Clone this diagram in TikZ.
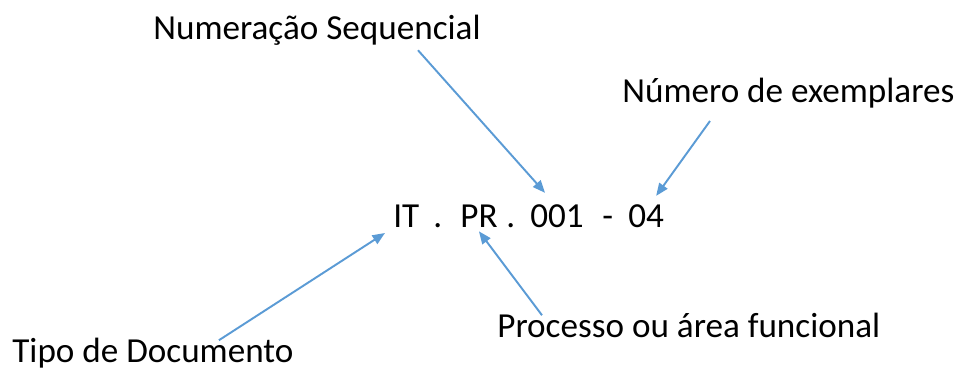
\documentclass[tikz,border=0pt]{standalone}
\usepackage{fontspec}
\setmainfont{Carlito}
\usepackage{xcolor}
\definecolor{azul}{RGB}{91,155,213}
\usetikzlibrary{arrows.meta, positioning}

\begin{document}
\begin{tikzpicture}[x=0.02cm, y=-0.02cm,
    rotulo/.style={inner sep=0pt, anchor=base west, font=\fontsize{20}{24}\selectfont},
    seta/.style={azul, line width=1.1pt, -{Triangle[length=0.25cm, width=0.2cm]}}]
    \useasboundingbox (0,0) rectangle (958,374);

    % the code itself
    \node[rotulo] (it) at (393,228) {IT};
    \node[rotulo] (ponto1) at (433,228) {.};
    \node[rotulo] (pr) at (460,228) {PR};
    \node[rotulo] (ponto2) at (506,228) {.};
    \node[rotulo] (seq) at (530,228) {001};
    \node[rotulo] (traco) at (602,228) {-};
    \node[rotulo] (ex) at (628,228) {04};

    % labels
    \node[rotulo] (num) at (153,40) {Numeração Sequencial};
    \node[rotulo] (exem) at (622,103) {Número de exemplares};
    \node[rotulo] (proc) at (497,338) {Processo ou área funcional};
    \node[rotulo] (tipo) at (12,363) {Tipo de Documento};

    \draw[seta] ([shift={(265,4)}]num.south west) -- ([shift={(-12,-12)}]seq.north);
    \draw[seta] ([shift={(88,12)}]exem.south west) -- ([shift={(10,-9)}]ex.north);
    \draw[seta] ([shift={(66,2)}]tipo.north) -- ([shift={(-8,5)}]it.base west);
    \draw[seta] ([shift={(45,2)}]proc.north west) -- ([shift={(0,3)}]pr.south);
\end{tikzpicture}
\end{document}
